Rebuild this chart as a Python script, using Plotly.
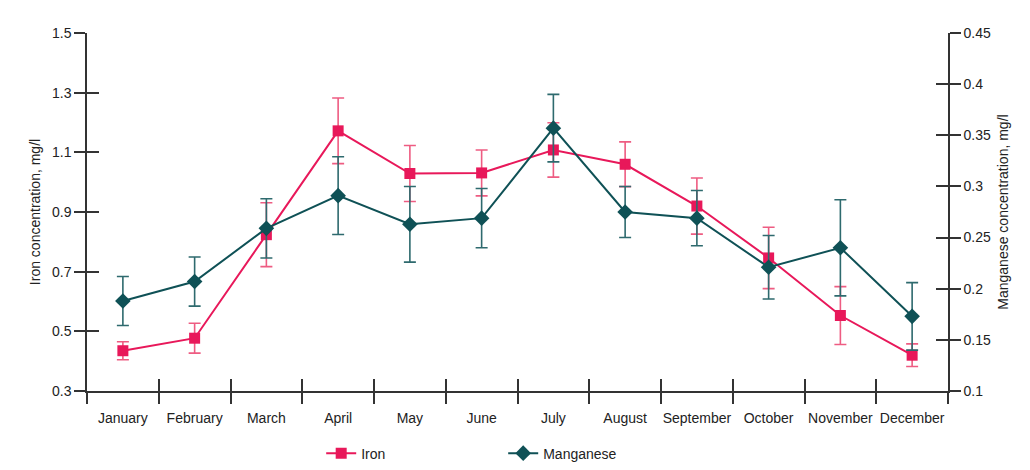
import plotly.graph_objects as go

months = ["January", "February", "March", "April", "May", "June", "July",
          "August", "September", "October", "November", "December"]
iron = [0.435, 0.477, 0.824, 1.172, 1.029, 1.031, 1.108, 1.060, 0.920, 0.746, 0.553, 0.420]
iron_err = [0.030, 0.050, 0.107, 0.110, 0.094, 0.077, 0.091, 0.075, 0.094, 0.103, 0.097, 0.038]
manganese = [0.188, 0.207, 0.259, 0.291, 0.263, 0.269, 0.357, 0.275, 0.269, 0.221, 0.240, 0.173]
manganese_err = [0.024, 0.024, 0.029, 0.038, 0.037, 0.029, 0.033, 0.025, 0.027, 0.031, 0.047, 0.033]

iron_range = [0.3, 1.5]
mn_range = [0.1, 0.45]

IRON_C = "#E8185A"
IRON_ERR = "#EE5C82"
MN_C = "#0F5156"
MN_ERR = "#2E6A6E"
AX_C = "#333333"
FONT = "Liberation Sans, Arial, sans-serif"
TXT = "#222222"

fig = go.Figure()
fig.add_trace(go.Scatter(
    x=months, y=iron, name="Iron", mode="lines+markers",
    line=dict(color=IRON_C, width=2),
    marker=dict(symbol="square", size=11, color=IRON_C),
    error_y=dict(type="data", array=iron_err, color=IRON_ERR, thickness=1.6, width=6),
    xaxis="x", yaxis="y"))
fig.add_trace(go.Scatter(
    x=months, y=manganese, name="Manganese", mode="lines+markers",
    line=dict(color=MN_C, width=2),
    marker=dict(symbol="diamond", size=12, color=MN_C),
    error_y=dict(type="data", array=manganese_err, color=MN_ERR, thickness=1.6, width=6),
    xaxis="x", yaxis="y2"))
# empty helper traces so the overlay axes (inner tick halves) are drawn
for xa, ya in [("x2", "y3"), ("x2", "y4")]:
    fig.add_trace(go.Scatter(x=[], y=[], xaxis=xa, yaxis=ya, showlegend=False, hoverinfo="skip"))

tickfont = dict(family=FONT, size=14, color=TXT)
titlefont = dict(family=FONT, size=14, color=TXT)
fig.update_layout(
    width=1022, height=462,
    margin=dict(l=79, r=82, t=25, b=79, autoexpand=False),
    paper_bgcolor="white", plot_bgcolor="white",
    font=dict(family=FONT, size=14, color=TXT),
    showlegend=True,
    legend=dict(orientation="h", x=0.272, xanchor="left", y=-0.13, yanchor="top",
                entrywidth=137, font=dict(family=FONT, size=14, color=TXT)),
    xaxis=dict(type="category", range=[-0.5, 11.5], tickson="boundaries",
               ticks="outside", ticklen=11, tickwidth=1.5, tickcolor=AX_C,
               showline=True, linecolor=AX_C, linewidth=1.5, showgrid=False,
               zeroline=False, tickfont=tickfont, tickangle=0, automargin=False,
               ticklabelstandoff=13),
    xaxis2=dict(overlaying="x", range=[-0.5, 11.5], tickmode="array",
                tickvals=[i + 0.5 for i in range(11)], ticks="inside", ticklen=12,
                tickwidth=1.5, tickcolor=AX_C, showticklabels=False, showline=False,
                showgrid=False, zeroline=False, side="bottom"),
    yaxis=dict(range=iron_range, dtick=0.2, tick0=0.3, ticks="outside", ticklen=11,
               tickwidth=1.5, tickcolor=AX_C, showline=True, linecolor=AX_C, linewidth=1.5,
               showgrid=False, zeroline=False, tickfont=tickfont, tickformat=".1f",
               automargin=False,
               title=dict(text="Iron concentration, mg/l", font=titlefont, standoff=8)),
    yaxis2=dict(range=mn_range, overlaying="y", side="right",
                ticks="outside", ticklen=11, tickwidth=1.5, tickcolor=AX_C,
                showline=True, linecolor=AX_C, linewidth=1.5, showgrid=False, zeroline=False,
                tickfont=tickfont, automargin=False,
                tickvals=[0.1, 0.15, 0.2, 0.25, 0.3, 0.35, 0.4, 0.45],
                ticktext=["0.1", "0.15", "0.2", "0.25", "0.3", "0.35", "0.4", "0.45"],
                title=dict(text="Manganese concentration, mg/l", font=titlefont, standoff=8)),
    yaxis3=dict(range=iron_range, dtick=0.2, tick0=0.3, overlaying="y", side="left",
                ticks="inside", ticklen=12, tickwidth=1.5, tickcolor=AX_C,
                showticklabels=False, showline=False, showgrid=False, zeroline=False),
    yaxis4=dict(range=mn_range, dtick=0.05, tick0=0.1, overlaying="y", side="right",
                ticks="inside", ticklen=12, tickwidth=1.5, tickcolor=AX_C,
                showticklabels=False, showline=False, showgrid=False, zeroline=False),
)

fig.write_html("out.html")
